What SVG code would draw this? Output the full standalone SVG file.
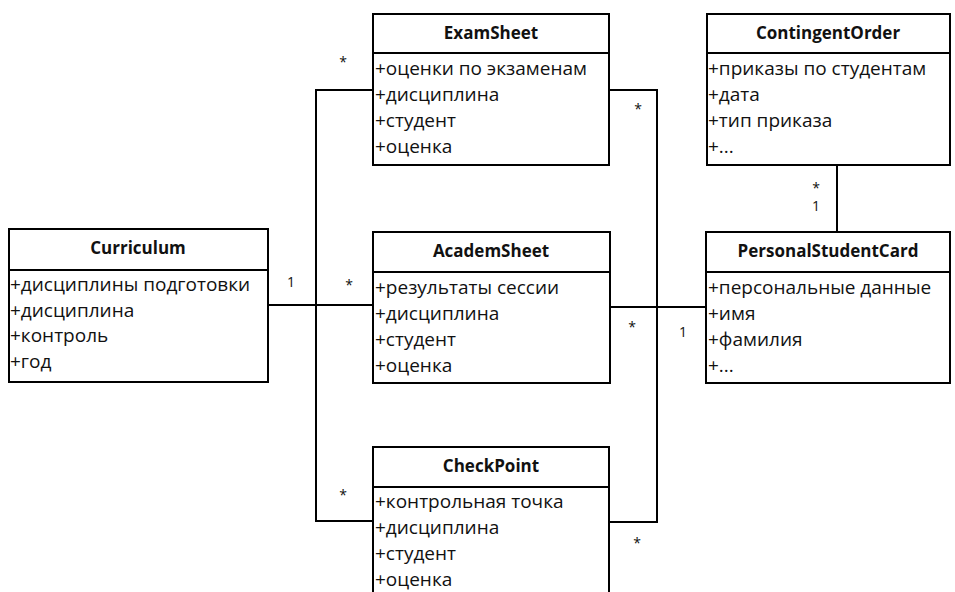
<svg xmlns="http://www.w3.org/2000/svg" width="955" height="592" viewBox="0 0 955 592">
<style>
.box{fill:#fff;stroke:#000;stroke-width:2}
.ln{fill:none;stroke:#000;stroke-width:2}
.t{font-family:"Open Sans","Liberation Sans",sans-serif;font-size:17px;font-weight:bold;text-anchor:middle;fill:#111}
.a{font-family:"Open Sans","Liberation Sans",sans-serif;font-size:19px;fill:#111}
.m{font-family:"Open Sans","Liberation Sans",sans-serif;font-size:14px;fill:#111;text-anchor:middle}
</style>
<rect width="955" height="592" fill="#fff"/>
<g id="connectors">
<polyline class="ln" points="373,90 316,90 316,521 373,521"/>
<line class="ln" x1="268" y1="305" x2="373" y2="305" stroke-width="3"/>
<polyline class="ln" points="609,90 657,90 657,522 609,522"/>
<line class="ln" x1="610" y1="307" x2="706" y2="307" stroke-width="3"/>
<line class="ln" x1="837" y1="165" x2="837" y2="232"/>
<text class="m" x="343" y="67">*</text>
<text class="m" x="291" y="287">1</text>
<text class="m" x="349" y="290">*</text>
<text class="m" x="638" y="114">*</text>
<text class="m" x="632" y="332">*</text>
<text class="m" x="683" y="337">1</text>
<text class="m" x="343" y="500">*</text>
<text class="m" x="637" y="548">*</text>
<text class="m" x="816" y="193">*</text>
<text class="m" x="816" y="211">1</text>
</g>
<g id="Curriculum">
<rect class="box" x="9" y="229" width="259" height="153"/>
<line class="ln" x1="9" y1="270" x2="268" y2="270"/>
<text class="t" x="138" y="254">Curriculum</text>
<text class="a" x="10" y="291">+дисциплины подготовки</text>
<text class="a" x="10" y="317">+дисциплина</text>
<text class="a" x="10" y="342">+контроль</text>
<text class="a" x="10" y="368">+год</text>
</g>
<g id="ExamSheet">
<rect class="box" x="373" y="14" width="236" height="151"/>
<line class="ln" x1="373" y1="53" x2="609" y2="53"/>
<text class="t" x="491" y="39">ExamSheet</text>
<text class="a" x="375" y="75">+оценки по экзаменам</text>
<text class="a" x="375" y="101">+дисциплина</text>
<text class="a" x="375" y="127">+студент</text>
<text class="a" x="375" y="153">+оценка</text>
</g>
<g id="AcademSheet">
<rect class="box" x="373" y="232" width="237" height="151"/>
<line class="ln" x1="373" y1="272" x2="610" y2="272"/>
<text class="t" x="491" y="257">AcademSheet</text>
<text class="a" x="375" y="294">+результаты сессии</text>
<text class="a" x="375" y="320">+дисциплина</text>
<text class="a" x="375" y="346">+студент</text>
<text class="a" x="375" y="372">+оценка</text>
</g>
<g id="CheckPoint">
<rect class="box" x="373" y="447" width="236" height="160"/>
<line class="ln" x1="373" y1="487" x2="609" y2="487"/>
<text class="t" x="491" y="472">CheckPoint</text>
<text class="a" x="375" y="508">+контрольная точка</text>
<text class="a" x="375" y="534">+дисциплина</text>
<text class="a" x="375" y="560">+студент</text>
<text class="a" x="375" y="586">+оценка</text>
</g>
<g id="ContingentOrder">
<rect class="box" x="707" y="14" width="243" height="151"/>
<line class="ln" x1="707" y1="53" x2="950" y2="53"/>
<text class="t" x="828" y="39">ContingentOrder</text>
<text class="a" x="708" y="75">+приказы по студентам</text>
<text class="a" x="708" y="101">+дата</text>
<text class="a" x="708" y="127">+тип приказа</text>
<text class="a" x="708" y="153">+...</text>
</g>
<g id="PersonalStudentCard">
<rect class="box" x="706" y="232" width="244" height="151"/>
<line class="ln" x1="706" y1="272" x2="950" y2="272"/>
<text class="t" x="828" y="257">PersonalStudentCard</text>
<text class="a" x="708" y="294">+персональные данные</text>
<text class="a" x="708" y="320">+имя</text>
<text class="a" x="708" y="346">+фамилия</text>
<text class="a" x="708" y="372">+...</text>
</g>
</svg>
